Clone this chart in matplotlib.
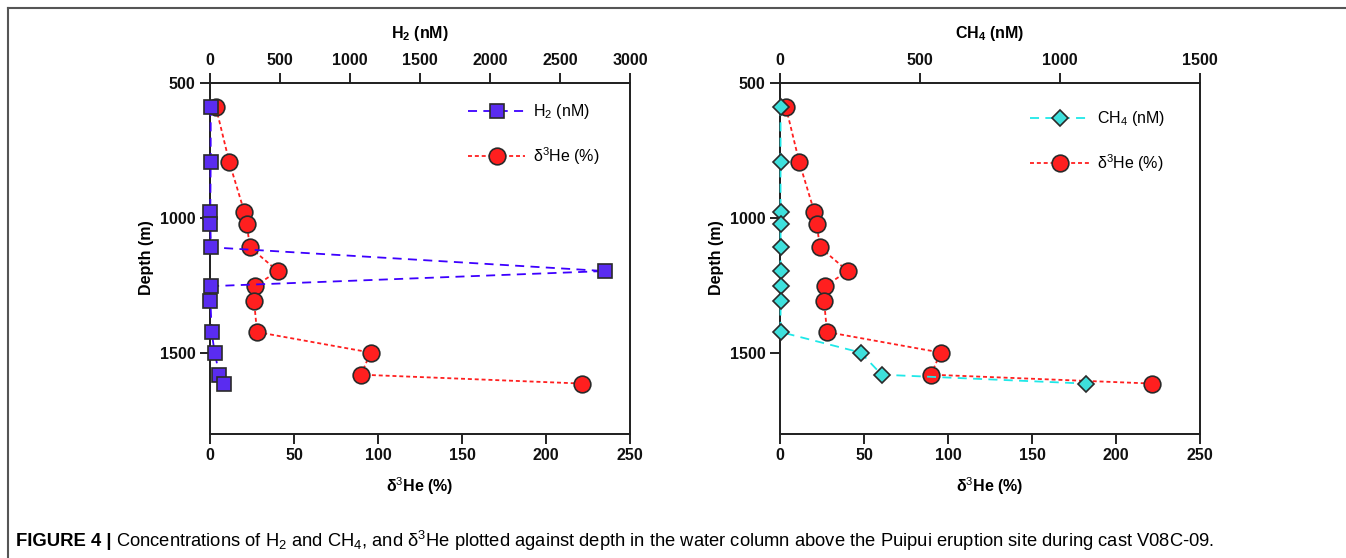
import matplotlib
matplotlib.use("Agg")
import matplotlib.pyplot as plt
from matplotlib.lines import Line2D

plt.rcParams['font.family'] = ['Liberation Sans', 'DejaVu Sans']
plt.rcParams['mathtext.fontset'] = 'custom'
plt.rcParams['mathtext.rm'] = 'Liberation Sans'
plt.rcParams['mathtext.bf'] = 'Liberation Sans:bold'
plt.rcParams['mathtext.default'] = 'rm'

# data
depth = [590, 795, 978, 1022, 1110, 1198, 1254, 1308, 1424, 1500, 1582, 1615]
he3 = [3.5, 11.5, 20.4, 21.8, 23.8, 40.3, 26.8, 26.2, 28.0, 95.6, 89.9, 221.6]
h2 = [5, 5, 2, 2, 7, 2820, 7, 3, 12, 33, 67, 102]
ch4 = [2, 2, 2, 2, 2, 2, 2, 2, 2, 288, 363, 1092]

he_ticks = [0, 50, 100, 150, 200, 250]
h2_ticks = [0, 500, 1000, 1500, 2000, 2500, 3000]
ch4_ticks = [0, 500, 1000, 1500]
depth_ticks = [500, 1000, 1500]

W, H = 1346, 558
fig = plt.figure(figsize=(W / 100, H / 100), dpi=100)

red = '#ff1f1f'
blue_line = '#3d00ff'
blue_face = '#5a2cf0'
cyan_line = '#1fe8e8'
cyan_face = '#3ee0dc'
edge = '#2a2a2a'


def style_axis(ax):
    for s in ax.spines.values():
        s.set_linewidth(1.3)
        s.set_color('#222222')
    ax.tick_params(direction='out', length=7, width=1.3, labelsize=11.5, colors='#111111')
    for lab in ax.get_xticklabels() + ax.get_yticklabels():
        lab.set_fontweight('bold')


def panel(left, top_vals, top_ticks, top_max, top_label, top_name, ls, lc, mk, mfc, ms):
    ax = fig.add_axes([left / W, 1 - 433.5 / H, 420 / W, 350.8 / H])
    ax.set_xlim(0, 250)
    ax.set_ylim(1800, 500)
    ax.set_xticks(he_ticks)
    ax.set_yticks(depth_ticks)
    he_line, = ax.plot(he3, depth, linestyle=(0, (2.2, 1.6)), color=red, lw=1.3,
                       marker='o', ms=12, mfc=red, mec=edge, mew=1.2, clip_on=False,
                       zorder=3, label=r'δ$^3$He (%)')
    ax.set_xlabel(r'δ$^3$$\mathbf{He}$ (%)', fontsize=11.5, fontweight='bold', labelpad=9)
    ax.set_ylabel('Depth (m)', fontsize=11.5, fontweight='bold', labelpad=4)
    style_axis(ax)

    ax2 = ax.twiny()
    ax2.set_xlim(0, top_max)
    ax2.set_xticks(top_ticks)
    gas_line, = ax2.plot(top_vals, depth, linestyle=ls, color=lc, lw=1.3,
                         marker=mk, ms=ms, mfc=mfc, mec=edge, mew=1.2, clip_on=False,
                         zorder=3, label=top_name)
    ax2.set_xlabel(top_label, fontsize=11.5, fontweight='bold', labelpad=11)
    style_axis(ax2)
    return ax, ax2, gas_line, he_line


axl, axl2, h2_line, he_l = panel(210, h2, h2_ticks, 3000, r'$\mathbf{H_2}$ (nM)', r'H$_2$ (nM)',
                                 (0, (5, 3.5)), blue_line, 's', blue_face, 10.5)
axl2.legend(handles=[h2_line, he_l], loc='upper left', bbox_to_anchor=(0.58, 0.985),
            frameon=False, fontsize=11.5, handlelength=3.6, handletextpad=0.45,
            labelspacing=1.5)

axr, axr2, ch4_line, he_r = panel(780, ch4, ch4_ticks, 1500, r'$\mathbf{CH_4}$ (nM)', r'CH$_4$ (nM)',
                                  (0, (5, 3.5)), cyan_line, 'D', cyan_face, 8.5)
axr2.legend(handles=[ch4_line, he_r], loc='upper left', bbox_to_anchor=(0.562, 0.965),
            frameon=False, fontsize=11.5, handlelength=3.7, handletextpad=0.45,
            labelspacing=1.5)

# frame lines (top and left) around the figure
fig.add_artist(Line2D([8 / W, 1], [1 - 8 / H, 1 - 8 / H], color='#555555', lw=1.5))
fig.add_artist(Line2D([8 / W, 8 / W], [0, 1 - 8 / H], color='#555555', lw=1.5))

# caption
t1 = fig.text(16 / W, 1 - 541 / H, 'FIGURE 4 |', fontsize=13.3, fontweight='bold',
              va='center', ha='left')
fig.canvas.draw()
bb = t1.get_window_extent()
fig.text((bb.x1 + 5) / W, 1 - 541 / H,
         r'Concentrations of H$_2$ and CH$_4$, and δ$^3$He plotted against depth in the water '
         'column above the Puipui eruption site during cast V08C-09.',
         fontsize=13.2, va='center', ha='left')

fig.savefig('out.png', dpi=100)
